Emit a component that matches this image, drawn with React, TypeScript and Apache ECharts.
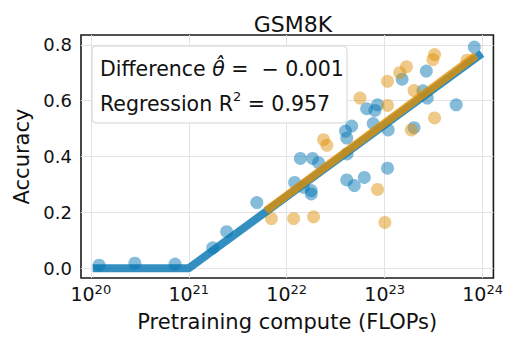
import React, { useEffect, useRef } from "react";
import * as echarts from "echarts";

// log10(pretraining FLOPs) and accuracy
const blueX = [20.085, 20.45, 20.86, 21.245, 21.387, 21.695, 22.081, 22.139, 22.264, 22.325, 22.25, 22.25, 22.17, 22.613, 22.69, 22.792, 23.029, 22.616, 22.613, 22.6, 22.663, 22.816, 22.9, 22.927, 22.883, 23.036, 23.3, 23.178, 23.425, 23.435, 23.39, 23.73, 23.915];
const blueY = [0.011, 0.018, 0.015, 0.073, 0.131, 0.235, 0.307, 0.393, 0.393, 0.378, 0.278, 0.266, 0.29, 0.316, 0.296, 0.325, 0.358, 0.409, 0.466, 0.491, 0.509, 0.571, 0.565, 0.585, 0.518, 0.495, 0.503, 0.677, 0.706, 0.609, 0.635, 0.585, 0.792];
const orangeX = [21.844, 22.071, 22.274, 22.376, 22.41, 22.748, 23.029, 23.029, 23.154, 23.222, 23.3, 23.272, 23.509, 23.509, 23.492, 23.841, 22.927, 23.002];
const orangeY = [0.178, 0.178, 0.184, 0.46, 0.44, 0.609, 0.583, 0.669, 0.7, 0.721, 0.636, 0.495, 0.538, 0.765, 0.747, 0.745, 0.282, 0.164];

// fitted piecewise-linear regression lines
const blueFitX = [20.06, 21.0, 23.96];
const blueFitY = [0, 0, 0.76];
const orangeFitX = [21.82, 23.9];
const orangeFitY = [0.214, 0.753];

const xTicks = [20, 21, 22, 23, 24];
const yTicks = [0, 0.2, 0.4, 0.6, 0.8];

const FONT = "DejaVu Sans";

function zip(xs: number[], ys: number[]) {
  return xs.map((x, i) => [x, ys[i]]);
}

export default function App() {
  const ref = useRef<HTMLDivElement>(null);
  useEffect(() => {
    if (!ref.current) return;
    const chart = echarts.init(ref.current, null, { renderer: "svg" });
    chart.setOption({
      animation: false,
      backgroundColor: "#ffffff",
      textStyle: { fontFamily: FONT },
      title: {
        text: "GSM8K",
        left: 288,
        top: 8,
        textAlign: "center",
        textStyle: { fontFamily: FONT, fontSize: 22, fontWeight: "normal", color: "#111" },
      },
      grid: {
        left: 81,
        right: 10,
        top: 35,
        bottom: 55,
        show: true,
        borderColor: "#1a1a1a",
        borderWidth: 1.6,
        backgroundColor: "transparent",
      },
      xAxis: {
        type: "value",
        min: 19.9,
        max: 24.11,
        minInterval: 1,
        maxInterval: 1,
        name: "Pretraining compute (FLOPs)",
        nameLocation: "middle",
        nameGap: 33,
        nameTextStyle: { fontFamily: FONT, fontSize: 21, color: "#111" },
        axisLine: { show: false },
        axisTick: { show: false },
        splitLine: { show: true, showMinLine: false, showMaxLine: false, lineStyle: { color: "#e3e3e3", width: 1 } },
        axisLabel: {
          margin: 5,
          color: "#111",
          formatter: (v: number) => {
            const r = Math.round(v);
            if (Math.abs(v - r) > 1e-6 || !xTicks.includes(r)) return "";
            return "{b|10}{s|" + r + "}";
          },
          rich: {
            b: { fontFamily: FONT, fontSize: 19, lineHeight: 20, verticalAlign: "bottom", color: "#111" },
            s: { fontFamily: FONT, fontSize: 13, lineHeight: 10, verticalAlign: "top", color: "#111" },
          },
        },
      },
      yAxis: {
        type: "value",
        min: -0.035,
        max: 0.835,
        minInterval: 0.2,
        maxInterval: 0.2,
        name: "Accuracy",
        nameLocation: "middle",
        nameGap: 47,
        nameTextStyle: { fontFamily: FONT, fontSize: 21, color: "#111" },
        axisLine: { show: false },
        axisTick: { show: false },
        splitLine: { show: true, showMinLine: false, showMaxLine: false, lineStyle: { color: "#e3e3e3", width: 1 } },
        axisLabel: {
          margin: 9,
          fontFamily: FONT,
          fontSize: 18,
          color: "#111",
          formatter: (v: number) => {
            const hit = yTicks.find((t) => Math.abs(t - v) < 1e-6);
            return hit === undefined ? "" : hit.toFixed(1);
          },
        },
      },
      series: [
        {
          type: "scatter",
          data: zip(blueX, blueY),
          symbolSize: 13,
          itemStyle: { color: "rgba(1,115,178,0.6)" },
          z: 2,
        },
        {
          type: "scatter",
          data: zip(orangeX, orangeY),
          symbolSize: 13,
          itemStyle: { color: "rgba(222,143,5,0.6)" },
          z: 3,
        },
        {
          type: "line",
          data: zip(blueFitX, blueFitY),
          showSymbol: false,
          symbol: "none",
          lineStyle: { color: "rgba(1,115,178,0.8)", width: 8, cap: "square", join: "round" },
          z: 4,
        },
        {
          type: "line",
          data: zip(orangeFitX, orangeFitY),
          showSymbol: false,
          symbol: "none",
          lineStyle: { color: "rgba(222,143,5,0.8)", width: 8, cap: "square", join: "round" },
          z: 5,
        },
      ],
      graphic: [
        {
          type: "rect",
          z: 100,
          shape: { x: 92, y: 46, width: 255, height: 77, r: 4 },
          style: { fill: "rgba(255,255,255,0.97)", stroke: "#d4d4d4", lineWidth: 1 },
        },
        {
          type: "text",
          z: 101,
          x: 100,
          y: 68.5,
          style: {
            text: "{n|Difference }{i|θ̂}{n| =  − 0.001}",
            verticalAlign: "middle",
            rich: {
              n: { fontFamily: FONT, fontSize: 20.5, fill: "#111" },
              i: { fontFamily: FONT, fontSize: 20.5, fontStyle: "italic", fill: "#111" },
            },
          },
        },
        {
          type: "text",
          z: 101,
          x: 100,
          y: 102,
          style: {
            text: "{n|Regression R}{s|2}{n| = 0.957}",
            verticalAlign: "middle",
            rich: {
              n: { fontFamily: FONT, fontSize: 20.5, lineHeight: 24, verticalAlign: "bottom", fill: "#111" },
              s: { fontFamily: FONT, fontSize: 13, lineHeight: 14, verticalAlign: "top", fill: "#111" },
            },
          },
        },
      ],
    });
    return () => chart.dispose();
  }, []);
  return (
    <div
      ref={ref}
      style={{ position: "fixed", left: 0, top: 0, width: 506, height: 337, background: "#fff" }}
    />
  );
}
